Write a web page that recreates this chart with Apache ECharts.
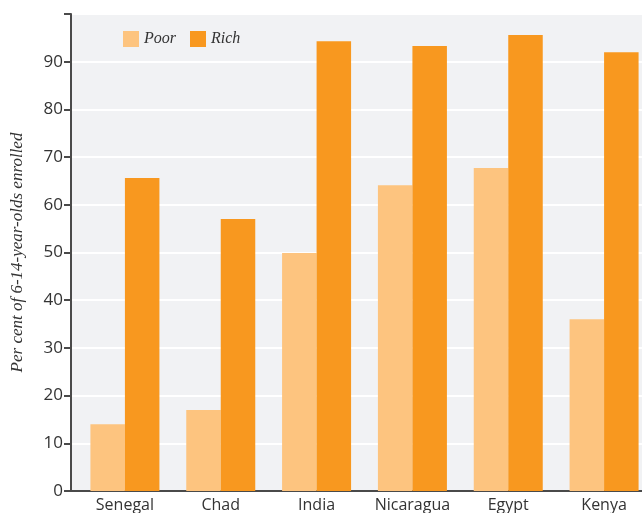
<!DOCTYPE html>
<html><head><meta charset="utf-8">
<script src="https://cdn.jsdelivr.net/npm/echarts@6/dist/echarts.min.js"></script>
<style>html,body{margin:0;padding:0;background:#fff}#c{width:642px;height:513px}</style>
</head><body><div id="c"></div>
<script>
const categories = ['Senegal', 'Chad', 'India', 'Nicaragua', 'Egypt', 'Kenya'];
const poor = [14.0, 17.0, 49.9, 64.1, 67.7, 36.0];
const rich = [65.6, 57.0, 94.3, 93.3, 95.6, 92.0];
const yTitle = 'Per cent of 6-14-year-olds enrolled';

const chart = echarts.init(document.getElementById('c'), null, {renderer: 'canvas'});
chart.setOption({
  animation: false,
  backgroundColor: '#ffffff',
  grid: [
    {left: 71, right: -10, top: 14, bottom: 22, show: true, backgroundColor: '#F1F2F4', borderWidth: 0, outerBoundsMode: 'none', containLabel: false},
    {left: 77, right: -10, top: 14, bottom: 22, outerBoundsMode: 'none', containLabel: false}
  ],
  legend: {
    data: ['Poor', 'Rich'], left: 118, top: 26, itemWidth: 16, itemHeight: 16, itemGap: 14,
    icon: 'rect',
    textStyle: {fontFamily: 'Liberation Serif', fontStyle: 'italic', fontSize: 16, color: '#333'}
  },
  xAxis: [
    {gridIndex: 0, type: 'value', min: 0, max: 1, axisLine: {show: true, onZero: false, lineStyle: {color: '#4a4a4a', width: 2}},
     axisTick: {show: false}, axisLabel: {show: false}, splitLine: {show: false}},
    {gridIndex: 1, type: 'category', data: categories, axisLine: {show: false}, axisTick: {show: false},
     axisLabel: {interval: 0, margin: 6, fontFamily: 'Open Sans', fontSize: 16, color: '#333'}}
  ],
  yAxis: [
    {gridIndex: 0, type: 'value', min: 0, max: 100, interval: 10,
     axisLine: {show: true, lineStyle: {color: '#4a4a4a', width: 2}},
     axisTick: {show: true, length: 7, lineStyle: {color: '#4a4a4a', width: 2}},
     axisLabel: {margin: 8, fontFamily: 'Open Sans', fontSize: 17, color: '#333',
       formatter: v => v === 100 ? '' : String(v)},
     splitLine: {show: true, lineStyle: {color: '#ffffff', width: 2}},
     name: yTitle, nameLocation: 'middle', nameGap: 45,
     nameTextStyle: {fontFamily: 'Liberation Serif', fontStyle: 'italic', fontSize: 17, color: '#333'}},
    {gridIndex: 1, type: 'value', min: 0, max: 100, show: false}
  ],
  series: [
    {name: 'Poor', type: 'bar', xAxisIndex: 1, yAxisIndex: 1, data: poor, barGap: '0%', barCategoryGap: '28%',
     itemStyle: {color: '#FDC47F'}},
    {name: 'Rich', type: 'bar', xAxisIndex: 1, yAxisIndex: 1, data: rich, barGap: '0%', barCategoryGap: '28%',
     itemStyle: {color: '#F8981F'}}
  ]
});
</script></body></html>
